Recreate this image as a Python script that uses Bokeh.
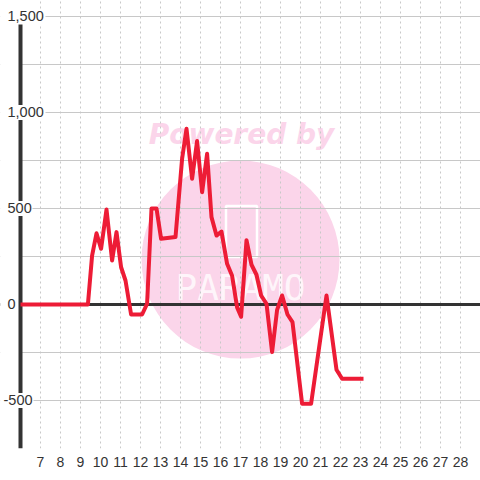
from bokeh.plotting import figure
from bokeh.models import Range1d, FixedTicker, Span, ColumnDataSource
from bokeh.core.properties import value
from bokeh.embed import file_html
from bokeh.resources import INLINE

# ---- data ----
hours = [6, 9.37, 9.58, 9.8, 10.03, 10.3, 10.58, 10.8, 11.03, 11.25, 11.53, 12.08,
         12.33, 12.55, 12.8, 13.03, 13.75, 14.08, 14.3, 14.58, 14.83, 15.08, 15.33,
         15.55, 15.8, 16.05, 16.33, 16.58, 16.83, 17.03, 17.3, 17.55, 17.8, 18.03,
         18.3, 18.58, 18.83, 19.08, 19.35, 19.6, 20.08, 20.53, 21.3, 21.8, 22.08, 23.15]
values = [0, 0, 255, 371, 290, 495, 229, 377, 194, 125, -52, -52,
          4, 500, 500, 342, 351, 759, 915, 655, 851, 585, 785,
          455, 359, 380, 212, 150, -15, -64, 335, 207, 155, 47,
          4, -248, -28, 47, -52, -92, -517, -517, 47, -340, -387, -387]
x_ticks = list(range(7, 29))
y_grid_ticks = [-500, -250, 0, 250, 500, 750, 1000, 1250, 1500]
y_label_values = [-500, 0, 500, 1000, 1500]
y_label_texts = ["-500", "0", "500", "1,000", "1,500"]
axis_origin = 6

# ---- layout / style ----
X0, X1 = 5, 29
Y0, Y1 = -750, 1583.33
PX_PER_UNIT = 480 / (X1 - X0)          # 20 px per hour
AXIS_TOP = 1458                        # axis line stops just below the top label
label_offsets = [-17, -13, -13, -13, -13]   # px from axis line to label start
label_widths = [29, 9, 24, 37, 37]          # approx. rendered label widths (px)

p = figure(width=480, height=480, output_backend="svg", toolbar_location=None,
           x_range=Range1d(X0, X1), y_range=Range1d(Y0, Y1),
           min_border_left=0, min_border_right=0, min_border_top=0, min_border_bottom=32)
p.outline_line_color = None
p.background_fill_color = "white"
p.border_fill_color = "white"

p.yaxis.visible = False
p.xaxis.ticker = FixedTicker(ticks=x_ticks)
p.xaxis.axis_line_color = None
p.xaxis.major_tick_line_color = None
p.xaxis.minor_tick_line_color = None
p.xaxis.major_label_text_font_size = "14px"
p.xaxis.major_label_text_font = "Liberation Sans"
p.xaxis.major_label_text_color = "#333333"
p.xaxis.major_label_standoff = 2

p.xgrid.ticker = FixedTicker(ticks=x_ticks)
p.xgrid.grid_line_color = "#c8c8c8"
p.xgrid.grid_line_dash = "2 3"
p.xgrid.grid_line_width = 1
p.ygrid.ticker = FixedTicker(ticks=y_grid_ticks)
p.ygrid.grid_line_color = "#c8c8c8"
p.ygrid.grid_line_width = 1

# watermark (beneath the grid)
pink = "#fbd5ea"
p.scatter(x=[17.0], y=[234], size=198, marker="circle", fill_color=pink,
          line_color=None, level="image")
p.text(x=[17.05], y=[885], text=["Powered by"], text_align="center",
       text_baseline="middle", text_font=value("DejaVu Sans"),
       text_font_style="bold italic", text_font_size="28px", text_color=pink,
       level="image")
p.rect(x=[17.05], y=[380], width=31, height=51, width_units="screen",
       height_units="screen", fill_color=None, line_color="white", line_width=2.5,
       level="image")
p.text(x=[17.0], y=[88], text=["PARAMO"], text_align="center",
       text_baseline="middle", text_font=value("DejaVu Sans Mono"),
       text_font_size="36px", text_color="white", text_alpha=0.8, level="image")

# zero line
p.add_layout(Span(location=0, dimension="width", line_color="#333333",
                  line_width=3, level="underlay"))

# white strip left of the axis (grid lines start at the axis)
p.quad(left=[X0], right=[axis_origin], bottom=[Y0], top=[Y1],
       fill_color="white", line_color=None)

# left axis line
p.segment(x0=[axis_origin], y0=[Y0], x1=[axis_origin], y1=[AXIS_TOP],
          line_color="#333333", line_width=4)

# data line
src = ColumnDataSource(dict(x=hours, y=values))
p.line("x", "y", source=src, line_color="#ed1c36", line_width=4, line_join="round")

# y labels with white backgrounds covering axis / grid
bg_center = [axis_origin + ((-20) + (o + w + 1)) / 2 / PX_PER_UNIT
             for o, w in zip(label_offsets, label_widths)]
bg_width = [(o + w + 1) + 20 for o, w in zip(label_offsets, label_widths)]
p.rect(x=bg_center, y=y_label_values, width=bg_width, height=[15] * len(bg_width),
       width_units="screen", height_units="screen", fill_color="white", line_color=None)
lab = ColumnDataSource(dict(x=[axis_origin] * len(y_label_values), y=y_label_values,
                            t=y_label_texts, off=label_offsets))
p.text("x", "y", text="t", source=lab, text_align="left", text_baseline="middle",
       x_offset="off", text_font=value("Liberation Sans"), text_font_size="14.5px",
       text_color="#333333")

open("out.html", "w").write(file_html(p, INLINE))
